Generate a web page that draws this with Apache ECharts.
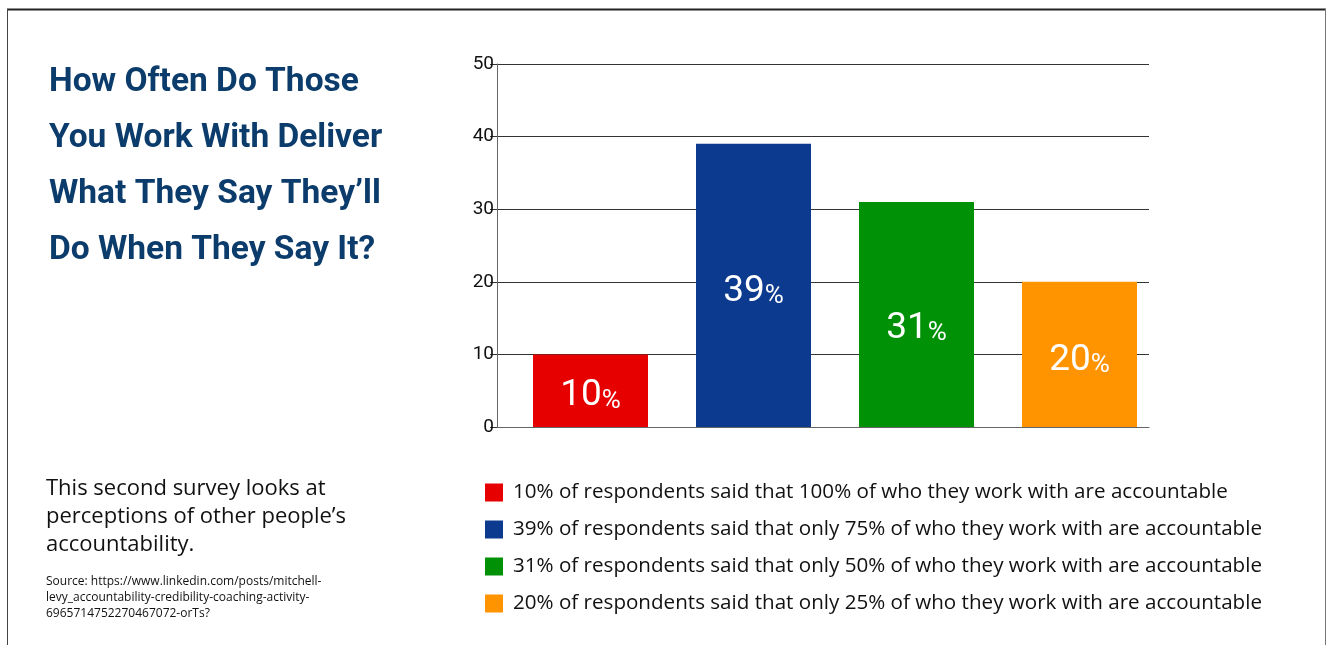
<!DOCTYPE html>
<html>
<head>
<meta charset="utf-8">
<script src="https://cdn.jsdelivr.net/npm/echarts@6/dist/echarts.min.js"></script>
<style>
html,body{margin:0;padding:0;background:#fff;}
#c{width:1326px;height:645px;}
</style>
</head>
<body>
<div id="c"></div>
<script>
const categories = ['100%', '75%', '50%', '25%'];
const values = [10, 39, 31, 20];
const colors = ['#e60000', '#0c3a8f', '#009106', '#ff9400'];
const legendNames = [
  '10% of respondents said that 100% of who they work with are accountable',
  '39% of respondents said that only 75% of who they work with are accountable',
  '31% of respondents said that only 50% of who they work with are accountable',
  '20% of respondents said that only 25% of who they work with are accountable'
];
const yTicks = [0, 10, 20, 30, 40, 50];

const chart = echarts.init(document.getElementById('c'));
const bodyFont = "'Open Sans', 'DejaVu Sans', sans-serif";
const narrowFont = "'Roboto', sans-serif";
const labelOffsets = [[0, 5], [0, 6], [0, 14], [0, 6]];

const series = values.map((v, i) => ({
  name: legendNames[i],
  type: 'bar',
  xAxisIndex: 1,
  yAxisIndex: 1,
  stack: 'total',
  barWidth: 115,
  itemStyle: { color: colors[i] },
  data: categories.map((c, j) => (j === i ? v : '-')),
  label: {
    show: true,
    position: 'inside',
    offset: labelOffsets[i],
    formatter: p => '{a|' + p.value + '}{b|%}',
    rich: {
      a: { color: '#fff', fontSize: 37, fontFamily: narrowFont, verticalAlign: 'bottom' },
      b: { color: '#fff', fontSize: 26, fontFamily: narrowFont, verticalAlign: 'bottom' }
    }
  }
}));

chart.setOption({
  animation: false,
  backgroundColor: '#fff',
  color: colors,
  title: [
    {
      text: 'How Often Do Those\nYou Work With Deliver\nWhat They Say They\u2019ll\nDo When They Say It?',
      left: 44, top: 50,
      textStyle: { color: '#0b3c6b', fontSize: 33.5, fontWeight: 'bold', lineHeight: 56, fontFamily: "'Roboto', 'Liberation Sans', sans-serif" }
    },
    {
      text: 'This second survey looks at\nperceptions of other people\u2019s\naccountability.',
      left: 41, top: 470,
      textStyle: { color: '#111', fontSize: 22, fontWeight: 'normal', lineHeight: 28, fontFamily: bodyFont }
    },
    {
      text: 'Source: https://www.linkedin.com/posts/mitchell-\nlevy_accountability-credibility-coaching-activity-\n6965714752270467072-orTs?',
      left: 41, top: 569,
      textStyle: { color: '#111', fontSize: 12, fontWeight: 'normal', lineHeight: 16, fontFamily: bodyFont }
    }
  ],
  legend: {
    orient: 'vertical',
    left: 485, top: 482,
    padding: 0,
    icon: 'rect',
    itemWidth: 18, itemHeight: 18,
    itemGap: 16,
    selectedMode: false,
    data: legendNames,
    textStyle: { color: '#111', fontSize: 20.6, lineHeight: 20, fontFamily: bodyFont, padding: [0, 0, 0, 5] }
  },
  grid: [
    { left: 497, right: 177, top: 64, bottom: 218 },
    { left: 509, right: 165, top: 64, bottom: 218 }
  ],
  xAxis: [
    {
      type: 'category', gridIndex: 0, data: categories,
      axisLine: { show: true, lineStyle: { color: '#666', width: 1 } },
      axisTick: { show: false }, axisLabel: { show: false }
    },
    {
      type: 'category', gridIndex: 1, data: categories, show: false
    }
  ],
  yAxis: [
    {
      type: 'value', gridIndex: 0, min: yTicks[0], max: yTicks[yTicks.length - 1], interval: 10,
      axisLine: { show: true, lineStyle: { color: '#666', width: 1 } },
      axisTick: { show: true, length: 7, lineStyle: { color: '#333' } },
      axisLabel: { color: '#111', fontSize: 19, margin: 3, fontFamily: "'Roboto', sans-serif" },
      splitLine: { show: true, lineStyle: { color: '#333', width: 1 } }
    },
    {
      type: 'value', gridIndex: 1, min: yTicks[0], max: yTicks[yTicks.length - 1], interval: 10, show: false,
      splitLine: { show: false }
    }
  ],
  graphic: [
    { type: 'line', shape: { x1: 7, y1: 9.5, x2: 1326, y2: 9.5 }, style: { stroke: '#222', lineWidth: 2 } },
    { type: 'line', shape: { x1: 7.5, y1: 9, x2: 7.5, y2: 645 }, style: { stroke: '#444', lineWidth: 1 } },
    { type: 'line', shape: { x1: 1325.5, y1: 9, x2: 1325.5, y2: 645 }, style: { stroke: '#777', lineWidth: 1 } }
  ],
  series: series
});
</script>
</body>
</html>
